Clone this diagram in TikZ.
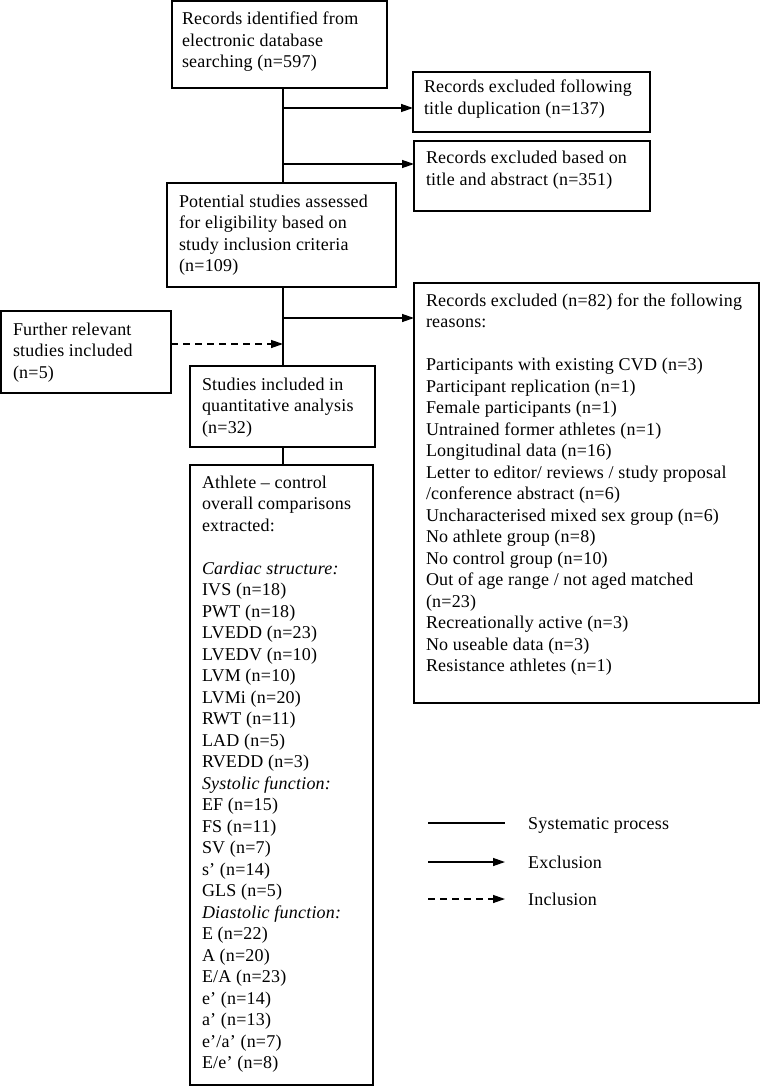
\documentclass[tikz,border=0pt]{standalone}
\usepackage{fontspec}
\setmainfont[LetterSpace=1.2]{Liberation Serif}
\usetikzlibrary{arrows.meta}
\tikzset{
  box/.style={draw, line width=1.3pt, outer sep=0pt, inner sep=0pt, anchor=north west},
  txt/.style={inner sep=0pt, outer sep=0pt, anchor=north west, align=left, font=\fontsize{18}{21.5}\selectfont},
  lgd/.style={inner sep=0pt, anchor=base west, font=\fontsize{18}{21.5}\selectfont},
  flow/.style={line width=1.3pt},
  excl/.style={line width=1.3pt, -{Triangle[length=12pt,width=8pt]}},
  incl/.style={line width=1.3pt, dash pattern=on 7pt off 5pt, -{Triangle[length=12pt,width=8pt]}}
}
\begin{document}
\begin{tikzpicture}[x=1pt,y=-1pt]
\useasboundingbox (0,0) rectangle (762,1086);
% boxes
\node[box, minimum width=215, minimum height=87] (b1) at (172,1) {};
\node[box, minimum width=237, minimum height=60] (b2) at (413,72) {};
\node[box, minimum width=236, minimum height=70] (b3) at (414,141) {};
\node[box, minimum width=229, minimum height=104] (b4) at (167,183) {};
\node[box, minimum width=345, minimum height=420] (b5) at (414,283) {};
\node[box, minimum width=170, minimum height=82] (b7) at (1,311) {};
\node[box, minimum width=185, minimum height=81] (b6) at (190,366) {};
\node[box, minimum width=183, minimum height=620] (b8) at (190,465) {};
% texts
\node[txt] (t1) at (182,25-15.05) {\strut Records identified from\\electronic database\\searching (n=597)};
\node[txt] (t2) at (424,93-15.05) {\strut Records excluded following\\title duplication (n=137)};
\node[txt] (t3) at (426,164-15.05) {\strut Records excluded based on\\title and abstract (n=351)};
\node[txt] (t4) at (179,207-15.05) {\strut Potential studies assessed\\for eligibility based on\\study inclusion criteria\\(n=109)};
\node[txt] (t5) at (426,306-15.05) {\strut Records excluded (n=82) for the following\\reasons:\\[21.5pt]
Participants with existing CVD (n=3)\\
Participant replication (n=1)\\
Female participants (n=1)\\
Untrained former athletes (n=1)\\
Longitudinal data (n=16)\\
Letter to editor/ reviews / study proposal\\
/conference abstract (n=6)\\
Uncharacterised mixed sex group (n=6)\\
No athlete group (n=8)\\
No control group (n=10)\\
Out of age range / not aged matched\\
(n=23)\\
Recreationally active (n=3)\\
No useable data (n=3)\\
Resistance athletes (n=1)};
\node[txt] (t7) at (13,335-15.05) {\strut Further relevant\\studies included\\(n=5)};
\node[txt] (t6) at (202,390-15.05) {\strut Studies included in\\quantitative analysis\\(n=32)};
\node[txt] (t8) at (202,488-15.05) {\strut Athlete -- control\\overall comparisons\\extracted:\\[21.5pt]
\textit{Cardiac structure:}\\
IVS (n=18)\\
PWT (n=18)\\
LVEDD (n=23)\\
LVEDV (n=10)\\
LVM (n=10)\\
LVMi (n=20)\\
RWT (n=11)\\
LAD (n=5)\\
RVEDD (n=3)\\
\textit{Systolic function:}\\
EF (n=15)\\
FS (n=11)\\
SV (n=7)\\
s’ (n=14)\\
GLS (n=5)\\
\textit{Diastolic function:}\\
E (n=22)\\
A (n=20)\\
E/A (n=23)\\
e’ (n=14)\\
a’ (n=13)\\
e’/a’ (n=7)\\
E/e’ (n=8)};
% spine and junctions
\coordinate (sp) at (283,0);
\coordinate (j1) at (283,108);
\coordinate (j2) at (283,164);
\coordinate (j3) at (283,318);
\coordinate (j4) at (283,344);
\draw[flow] (b1.south -| sp) -- (b4.north -| sp);
\draw[flow] (b4.south -| sp) -- (b6.north -| sp);
\draw[flow] (b6.south -| sp) -- (b8.north -| sp);
\draw[excl] (j1) -- (j1 -| b2.west);
\draw[excl] (j2) -- (j2 -| b3.west);
\draw[excl] (j3) -- (j3 -| b5.west);
\draw[incl] (j4 -| b7.east) -- (j4);
% legend
\coordinate (la1) at (428,823);
\coordinate (lb1) at (505,823);
\coordinate (la2) at (428,862);
\coordinate (lb2) at (505,862);
\coordinate (la3) at (428,899);
\coordinate (lb3) at (505,899);
\draw[flow] (la1) -- (lb1);
\draw[excl] (la2) -- (lb2);
\draw[incl] (la3) -- (lb3);
\node[lgd] (g1) at (528,829) {Systematic process};
\node[lgd] (g2) at (528,868) {Exclusion};
\node[lgd] (g3) at (528,905) {Inclusion};
\end{tikzpicture}
\end{document}
